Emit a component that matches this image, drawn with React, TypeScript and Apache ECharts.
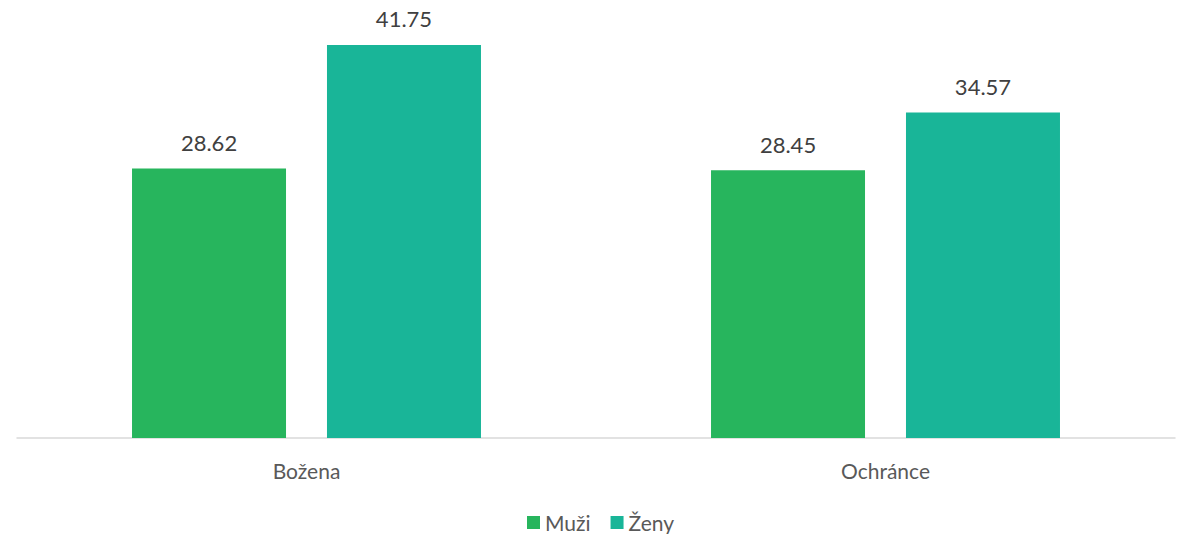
import React, { useEffect, useRef } from "react";
import * as echarts from "echarts";

const categories = ["Božena", "Ochránce"];
const muzi = [28.62, 28.45];
const zeny = [41.75, 34.57];
const seriesNames = ["Muži", "Ženy"];

export default function App() {
  const ref = useRef<HTMLDivElement>(null);
  useEffect(() => {
    const chart = echarts.init(ref.current!, null, { renderer: "svg" });
    const font = "Lato";
    const label = {
      show: true,
      position: "top",
      distance: 15,
      color: "#404040",
      fontSize: 22,
      fontFamily: font,
      formatter: (p: any) => p.value.toFixed(2),
    };
    chart.setOption({
      animation: false,
      grid: { left: 17, right: 6, top: 14.4, bottom: 96, containLabel: false },
      legend: {
        top: 512,
        left: 527,
        itemWidth: 13,
        itemHeight: 13,
        itemGap: 20,
        icon: "rect",
        padding: 0,
        textStyle: { fontSize: 21, color: "#595959", fontFamily: font },
        data: seriesNames,
      },
      xAxis: {
        type: "category",
        data: categories,
        axisLine: { lineStyle: { color: "#d9d9d9", width: 1.5 } },
        axisTick: { show: false },
        axisLabel: { color: "#595959", fontSize: 21, fontFamily: font, margin: 22 },
      },
      yAxis: {
        type: "value",
        min: 0,
        max: 45,
        show: false,
        splitLine: { show: false },
      },
      series: [
        {
          name: seriesNames[0],
          type: "bar",
          data: muzi,
          barWidth: 154,
          barGap: "26.6%",
          itemStyle: { color: "#27B55D" },
          label,
        },
        {
          name: seriesNames[1],
          type: "bar",
          data: zeny,
          barWidth: 154,
          itemStyle: { color: "#19B598" },
          label,
        },
      ],
    });
    return () => chart.dispose();
  }, []);
  return (
    <div
      ref={ref}
      style={{ position: "fixed", left: 0, top: 0, width: 1181, height: 534, background: "#fff" }}
    />
  );
}
